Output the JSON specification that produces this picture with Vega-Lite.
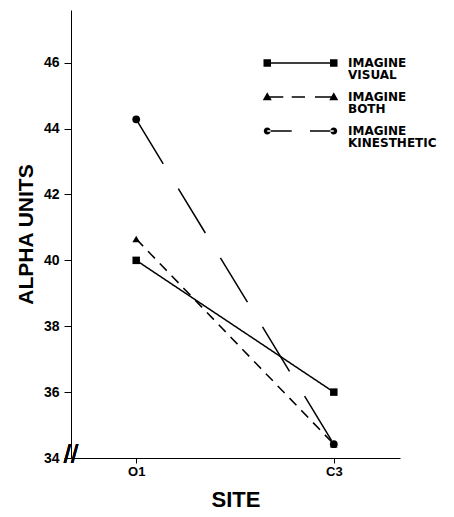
{
  "$schema": "https://vega.github.io/schema/vega-lite/v6.json",
  "width": 329,
  "height": 448,
  "autosize": {"type": "none"},
  "padding": {"left": 71, "top": 10, "right": 54, "bottom": 59},
  "background": "white",
  "config": {
    "view": {"stroke": null},
    "font": "Liberation Sans",
    "style": {"guide-label": {"lineHeight": 12.5}},
    "legend": {
      "orient": "none", "legendX": 223.5, "legendY": 41.8, "padding": 0,
      "symbolSize": 100, "symbolStrokeWidth": 0, "symbolOpacity": 1,
      "symbolFillColor": "black",
      "labelFont": "DejaVu Sans", "labelFontSize": 12, "labelFontWeight": "bold",
      "labelColor": "black", "labelLimit": 0, "labelOffset": 41.5,
      "labelBaseline": "top", "rowPadding": 4
    }
  },
  "data": {
    "values": [
      {"site": "O1", "pos": 1, "series": "IMAGINE VISUAL", "alpha": 40.0},
      {"site": "C3", "pos": 2, "series": "IMAGINE VISUAL", "alpha": 36.0},
      {"site": "O1", "pos": 1, "series": "IMAGINE BOTH", "alpha": 40.65},
      {"site": "C3", "pos": 2, "series": "IMAGINE BOTH", "alpha": 34.42},
      {"site": "O1", "pos": 1, "series": "IMAGINE KINESTHETIC", "alpha": 44.28},
      {"site": "C3", "pos": 2, "series": "IMAGINE KINESTHETIC", "alpha": 34.42}
    ]
  },
  "resolve": {"scale": {"shape": "independent"}},
  "layer": [
    {
      "mark": {"type": "line", "color": "black", "strokeWidth": 1.5},
      "encoding": {
        "x": {
          "field": "pos", "type": "quantitative",
          "scale": {"domain": [0.67, 2.335], "nice": false, "zero": false},
          "axis": {
            "values": [1, 2],
            "labelExpr": "datum.value == 1 ? 'O1' : 'C3'",
            "title": "SITE", "grid": false, "tickSize": 5, "labelPadding": 2,
            "labelFontSize": 13, "labelFontWeight": "bold", "labelColor": "black",
            "titleFontSize": 22, "titleFontWeight": "bold", "titleColor": "black", "titlePadding": 11,
            "domainColor": "black", "tickColor": "black", "domainWidth": 1.2
          }
        },
        "y": {
          "field": "alpha", "type": "quantitative",
          "scale": {"domain": [34, 47.6], "nice": false, "zero": false},
          "axis": {
            "values": [34, 36, 38, 40, 42, 44, 46],
            "title": "ALPHA UNITS", "grid": false, "tickSize": 7, "labelPadding": 5,
            "labelFontSize": 14, "labelFontWeight": "bold", "labelColor": "black",
            "titleFontSize": 21, "titleFontWeight": "bold", "titleColor": "black", "titlePadding": 7,
            "domainColor": "black", "tickColor": "black"
          }
        },
        "strokeDash": {
          "field": "series", "type": "nominal",
          "scale": {
            "domain": ["IMAGINE VISUAL", "IMAGINE BOTH", "IMAGINE KINESTHETIC"],
            "range": [[1, 0], [10, 7], [52, 29]]
          },
          "legend": null
        }
      }
    },
    {
      "mark": {"type": "point", "filled": true, "color": "black", "opacity": 1},
      "encoding": {
        "x": {"field": "pos", "type": "quantitative"},
        "y": {"field": "alpha", "type": "quantitative"},
        "shape": {
          "field": "series", "type": "nominal",
          "scale": {
            "domain": ["IMAGINE VISUAL", "IMAGINE BOTH", "IMAGINE KINESTHETIC"],
            "range": ["square", "triangle-up", "circle"]
          },
          "legend": null
        },
        "size": {
          "field": "series", "type": "nominal",
          "scale": {
            "domain": ["IMAGINE VISUAL", "IMAGINE BOTH", "IMAGINE KINESTHETIC"],
            "range": [56, 60, 46]
          },
          "legend": null
        }
      }
    },
    {
      "mark": {"type": "point", "filled": true, "color": "black", "opacity": 0},
      "encoding": {
        "x": {"field": "pos", "type": "quantitative"},
        "y": {"field": "alpha", "type": "quantitative"},
        "shape": {
          "field": "series", "type": "nominal",
          "scale": {
            "domain": ["IMAGINE VISUAL", "IMAGINE BOTH", "IMAGINE KINESTHETIC"],
            "range": [
              "M-7.4,0.3H-5.9V1.78H-7.4Z M-6.65,0.89H6.65V1.19H-6.65Z M5.9,0.3H7.4V1.78H5.9Z",
              "M-6.65,0.09L-5.75,1.69H-7.55Z M-6.65,0.89H-3.44V1.19H-6.65Z M-1.76,0.89H0.9V1.19H-1.76Z M2.9,0.89H6.65V1.19H2.9Z M6.65,0.09L7.55,1.69H5.75Z",
              "M-7.35,1.04A0.7,0.7 0 1,0 -5.95,1.04A0.7,0.7 0 1,0 -7.35,1.04Z M-6.65,0.89H-1.76V1.19H-6.65Z M1.9,0.89H6.65V1.19H1.9Z M5.95,1.04A0.7,0.7 0 1,0 7.35,1.04A0.7,0.7 0 1,0 5.95,1.04Z"
            ]
          },
          "legend": {"title": null, "labelExpr": "split(datum.label, ' ')"}
        }
      }
    },
    {
      "mark": {"type": "text", "text": "//", "fontSize": 26, "font": "Liberation Sans", "color": "black", "align": "center", "baseline": "middle", "dy": -3},
      "encoding": {
        "x": {"datum": 0.67, "type": "quantitative"},
        "y": {"datum": 34, "type": "quantitative"}
      }
    }
  ]
}
